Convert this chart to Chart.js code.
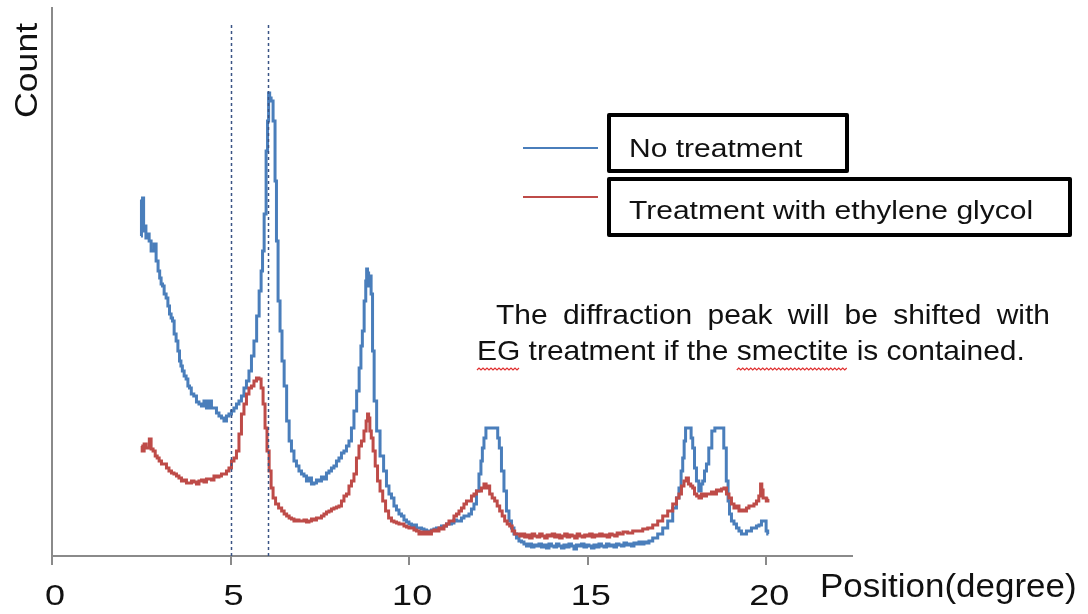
<!DOCTYPE html>
<html>
<head>
<meta charset="utf-8">
<script src="https://cdn.jsdelivr.net/npm/chart.js@4.4.1/dist/chart.umd.min.js"></script>
<style>
  html, body { margin: 0; padding: 0; background: #fff; }
  canvas { display: block; }
</style>
</head>
<body>
<canvas id="xrd" width="1088" height="614"></canvas>
<script>
// XRD pattern, [position (degree), count]
const noTreatment = [
  [2.49,320],[2.52,355],[2.55,358],[2.58,325],[2.61,330],[2.65,318],[2.69,322],[2.75,315],[2.80,305],[2.83,305],
  [2.89,312],[2.94,295],[3.00,285],[3.03,278],[3.08,272],[3.11,270],[3.17,262],[3.22,258],[3.27,250],[3.31,242],
  [3.36,238],[3.39,235],[3.45,222],[3.50,215],[3.55,205],[3.59,195],[3.63,190],[3.67,185],[3.73,180],[3.78,177],
  [3.83,170],[3.87,168],[3.93,162],[4.01,160],[4.08,154],[4.15,152],[4.22,150],[4.29,155],[4.36,148],[4.43,155],
  [4.50,148],[4.57,148],[4.64,143],[4.71,140],[4.78,138],[4.85,135],[4.92,140],[4.99,142],[5.06,145],[5.13,148],
  [5.20,152],[5.27,155],[5.34,160],[5.41,168],[5.48,175],[5.55,185],[5.62,200],[5.69,215],[5.77,240],[5.83,265],
  [5.88,285],[5.91,305],[5.97,342],[6.02,405],[6.05,435],[6.08,463],[6.11,458],[6.16,455],[6.22,435],[6.27,375],
  [6.30,315],[6.36,255],[6.41,225],[6.47,195],[6.53,170],[6.61,135],[6.67,115],[6.74,105],[6.81,95],[6.88,90],
  [6.95,85],[7.02,82],[7.09,80],[7.16,75],[7.23,78],[7.30,72],[7.37,73],[7.44,76],[7.51,75],[7.58,79],
  [7.65,77],[7.72,83],[7.79,85],[7.86,88],[7.93,90],[8.00,95],[8.07,98],[8.14,103],[8.21,105],[8.28,110],
  [8.35,115],[8.42,128],[8.49,145],[8.57,165],[8.63,188],[8.67,210],[8.71,225],[8.77,255],[8.80,275],[8.82,287],
  [8.85,283],[8.88,270],[8.91,280],[8.96,262],[8.99,205],[9.05,155],[9.13,125],[9.24,100],[9.33,85],[9.40,70],
  [9.47,62],[9.54,58],[9.61,50],[9.68,46],[9.75,42],[9.82,40],[9.89,36],[9.96,34],[10.03,32],[10.10,30],
  [10.17,31],[10.24,28],[10.31,28],[10.38,27],[10.45,26],[10.52,25],[10.59,25],[10.66,26],[10.73,27],[10.80,28],
  [10.87,28],[10.94,30],[11.01,30],[11.08,32],[11.15,32],[11.22,33],[11.29,36],[11.36,35],[11.43,35],[11.50,38],
  [11.57,40],[11.64,40],[11.71,42],[11.78,47],[11.85,52],[11.92,65],[11.99,82],[12.03,95],[12.07,108],[12.12,118],
  [12.18,128],[12.27,128],[12.38,128],[12.46,128],[12.50,118],[12.55,108],[12.62,85],[12.69,65],[12.76,45],[12.83,35],
  [12.90,28],[12.97,22],[13.04,18],[13.11,15],[13.18,14],[13.25,12],[13.32,10],[13.39,12],[13.46,9],[13.53,11],
  [13.60,10],[13.67,12],[13.74,9],[13.81,11],[13.88,8],[13.95,12],[14.02,10],[14.09,9],[14.16,12],[14.23,10],
  [14.30,8],[14.37,11],[14.44,9],[14.51,12],[14.58,10],[14.65,7],[14.72,11],[14.79,10],[14.86,12],[14.93,9],
  [15.00,11],[15.07,10],[15.14,8],[15.21,11],[15.28,9],[15.35,12],[15.42,10],[15.49,9],[15.56,12],[15.63,10],
  [15.70,11],[15.77,9],[15.84,12],[15.91,11],[15.98,10],[16.05,13],[16.12,11],[16.19,12],[16.26,10],[16.33,13],
  [16.40,12],[16.47,14],[16.54,12],[16.61,14],[16.68,13],[16.75,15],[16.89,18],[17.03,22],[17.17,28],[17.31,35],
  [17.45,48],[17.52,58],[17.59,68],[17.64,85],[17.68,98],[17.72,115],[17.76,128],[17.87,128],[17.92,118],[17.96,108],
  [18.02,88],[18.07,75],[18.15,65],[18.20,72],[18.24,75],[18.30,85],[18.35,92],[18.43,108],[18.52,125],[18.60,128],
  [18.77,128],[18.85,108],[18.91,75],[18.95,55],[18.99,42],[19.06,35],[19.13,32],[19.20,28],[19.27,25],[19.34,22],
  [19.41,22],[19.48,25],[19.55,25],[19.62,28],[19.69,28],[19.76,30],[19.83,31],[19.90,35],[19.97,35],[20.02,25],
  [20.06,22]
];

const ethyleneGlycol = [
  [2.50,110],[2.55,105],[2.61,112],[2.66,108],[2.70,108],[2.75,117],[2.80,107],[2.86,105],[2.92,100],[2.97,98],
  [3.03,95],[3.10,92],[3.17,92],[3.24,88],[3.31,85],[3.38,83],[3.45,82],[3.52,80],[3.59,78],[3.66,75],
  [3.73,76],[3.80,73],[3.87,73],[3.94,75],[4.01,74],[4.08,72],[4.15,75],[4.22,76],[4.29,74],[4.36,77],
  [4.43,77],[4.50,76],[4.57,80],[4.64,79],[4.71,80],[4.78,82],[4.85,82],[4.92,85],[4.99,88],[5.06,95],
  [5.13,98],[5.20,105],[5.27,122],[5.34,142],[5.41,152],[5.48,162],[5.55,168],[5.62,170],[5.69,175],[5.76,178],
  [5.83,177],[5.88,168],[5.94,152],[5.99,128],[6.05,105],[6.11,85],[6.16,68],[6.22,58],[6.30,52],[6.39,48],
  [6.47,45],[6.53,42],[6.61,40],[6.67,38],[6.74,37],[6.81,35],[6.88,36],[6.95,35],[7.02,35],[7.09,36],
  [7.16,34],[7.23,35],[7.30,37],[7.37,36],[7.44,38],[7.51,38],[7.58,40],[7.65,42],[7.72,44],[7.79,45],
  [7.86,47],[7.93,48],[8.00,49],[8.07,50],[8.14,55],[8.21,60],[8.28,62],[8.35,70],[8.42,75],[8.49,82],
  [8.56,98],[8.63,110],[8.70,115],[8.77,125],[8.82,135],[8.85,142],[8.88,138],[8.92,125],[8.96,118],[9.02,105],
  [9.08,90],[9.15,75],[9.22,65],[9.30,55],[9.38,45],[9.47,38],[9.54,35],[9.61,34],[9.68,33],[9.75,32],
  [9.82,32],[9.89,30],[9.96,29],[10.03,28],[10.10,28],[10.17,26],[10.24,25],[10.31,22],[10.38,24],[10.45,22],
  [10.52,24],[10.59,22],[10.66,25],[10.73,26],[10.80,25],[10.87,28],[10.94,27],[11.01,30],[11.08,32],[11.15,35],
  [11.22,35],[11.29,40],[11.36,42],[11.43,45],[11.50,48],[11.57,52],[11.64,55],[11.71,55],[11.78,60],[11.85,62],
  [11.92,65],[11.99,65],[12.06,68],[12.13,72],[12.18,68],[12.22,70],[12.29,62],[12.36,58],[12.43,55],[12.50,50],
  [12.57,45],[12.64,40],[12.71,35],[12.78,32],[12.85,30],[12.92,25],[12.99,22],[13.06,22],[13.13,20],[13.20,22],
  [13.27,19],[13.34,21],[13.41,18],[13.48,22],[13.55,20],[13.62,19],[13.69,22],[13.76,20],[13.83,18],[13.90,21],
  [13.97,20],[14.04,22],[14.11,19],[14.18,21],[14.25,18],[14.32,20],[14.39,22],[14.46,19],[14.53,21],[14.60,20],
  [14.67,18],[14.74,22],[14.81,20],[14.88,19],[14.95,21],[15.02,20],[15.09,22],[15.16,19],[15.23,21],[15.30,20],
  [15.37,22],[15.44,20],[15.51,21],[15.58,19],[15.65,22],[15.72,21],[15.79,20],[15.86,23],[15.93,22],[16.05,24],
  [16.19,23],[16.33,25],[16.47,25],[16.61,27],[16.75,28],[16.89,31],[17.03,35],[17.17,40],[17.31,45],[17.45,52],
  [17.52,58],[17.59,62],[17.66,70],[17.73,75],[17.79,78],[17.85,72],[17.92,70],[17.96,68],[18.02,62],[18.08,60],
  [18.15,58],[18.22,62],[18.29,60],[18.36,62],[18.43,62],[18.50,64],[18.57,62],[18.64,66],[18.71,65],[18.78,67],
  [18.85,68],[18.92,62],[18.99,58],[19.06,52],[19.13,48],[19.20,50],[19.27,45],[19.34,46],[19.41,45],[19.48,48],
  [19.55,50],[19.62,50],[19.69,52],[19.76,55],[19.82,60],[19.86,72],[19.89,66],[19.93,58],[19.97,58],[20.03,55],
  [20.06,57]
];

const seriesLabels = ['No treatment', 'Treatment with ethylene glycol'];
const seriesColors = ['#4a7ebb', '#be4b48'];
const markerPositions = [5.0, 6.05];
const xTitle = 'Position(degree)';
const yTitle = 'Count';
const noteLine1 = 'The diffraction peak will be shifted with';
const noteLine2 = 'EG treatment if the smectite is contained.';
const flaggedWords = ['EG', 'smectite'];

function stretchText(ctx, text, x, y, size, sx) {
  ctx.save();
  ctx.translate(x, y);
  ctx.scale(sx, 1);
  ctx.font = size + 'px "Liberation Sans", Arial, sans-serif';
  ctx.fillText(text, 0, 0);
  ctx.restore();
}

function textWidth(ctx, text, size, sx) {
  ctx.save();
  ctx.font = size + 'px "Liberation Sans", Arial, sans-serif';
  const w = ctx.measureText(text).width * sx;
  ctx.restore();
  return w;
}

function squiggle(ctx, x0, x1, y) {
  ctx.save();
  ctx.strokeStyle = '#e03030';
  ctx.lineWidth = 1.2;
  ctx.beginPath();
  let up = true;
  ctx.moveTo(x0, y);
  for (let x = x0 + 2; x <= x1; x += 2) {
    ctx.lineTo(x, up ? y - 2 : y);
    up = !up;
  }
  ctx.stroke();
  ctx.restore();
}

const extras = {
  id: 'extras',
  afterDatasetsDraw(chart) {
    const ctx = chart.ctx;
    const xs = chart.scales.x;
    const area = chart.chartArea;

    // dotted guide lines
    ctx.save();
    ctx.strokeStyle = '#3a5385';
    ctx.lineWidth = 1.5;
    ctx.setLineDash([3, 3]);
    markerPositions.forEach(v => {
      const px = Math.round(xs.getPixelForValue(v)) + 0.5;
      ctx.beginPath();
      ctx.moveTo(px, 25);
      ctx.lineTo(px, area.bottom);
      ctx.stroke();
    });
    ctx.restore();
  },
  afterDraw(chart) {
    const ctx = chart.ctx;
    const xs = chart.scales.x;
    ctx.save();
    ctx.fillStyle = '#111';
    ctx.textBaseline = 'middle';

    // tick labels
    xs.ticks.forEach(t => {
      const label = String(t.value);
      const w = textWidth(ctx, label, 30, 1.2);
      stretchText(ctx, label, xs.getPixelForValue(t.value) + 3 - w / 2, 597, 30, 1.2);
    });

    // axis titles
    stretchText(ctx, xTitle, 820, 588, 33, 1.06);
    ctx.save();
    ctx.translate(28, 118);
    ctx.rotate(-Math.PI / 2);
    stretchText(ctx, yTitle, 0, 0, 31, 1.15);
    ctx.restore();

    // legend
    ctx.save();
    ctx.lineWidth = 2;
    [148, 197].forEach((y, i) => {
      ctx.strokeStyle = seriesColors[i];
      ctx.beginPath();
      ctx.moveTo(523, y);
      ctx.lineTo(598, y);
      ctx.stroke();
    });
    ctx.strokeStyle = '#000';
    ctx.lineWidth = 4;
    ctx.lineJoin = 'round';
    ctx.strokeRect(609, 115, 238, 56);
    ctx.strokeRect(609, 179, 461, 56);
    ctx.restore();
    stretchText(ctx, seriesLabels[0], 629, 150, 25, 1.2);
    stretchText(ctx, seriesLabels[1], 629, 212, 25, 1.2);

    // note, first line justified
    const size = 28, sx = 1.07;
    const words = noteLine1.split(' ');
    const widths = words.map(w => textWidth(ctx, w, size, sx));
    const total = widths.reduce((a, b) => a + b, 0);
    const gap = (1050 - 496 - total) / (words.length - 1);
    let x = 496;
    words.forEach((w, i) => {
      stretchText(ctx, w, x, 316, size, sx);
      x += widths[i] + gap;
    });
    const x2 = 477;
    stretchText(ctx, noteLine2, x2, 352, size, sx);
    flaggedWords.forEach(word => {
      const idx = noteLine2.indexOf(word);
      const a = x2 + textWidth(ctx, noteLine2.slice(0, idx), size, sx);
      const b = a + textWidth(ctx, word, size, sx);
      squiggle(ctx, a, b, 370);
    });
    ctx.restore();
  }
};

const datasets = [
  {
    label: seriesLabels[0],
    data: noTreatment.map(p => ({ x: p[0], y: p[1] })),
    borderColor: seriesColors[0],
    borderWidth: 3,
    pointRadius: 0,
    stepped: 'middle',
    order: 1
  },
  {
    label: seriesLabels[1],
    data: ethyleneGlycol.map(p => ({ x: p[0], y: p[1] })),
    borderColor: seriesColors[1],
    borderWidth: 3,
    pointRadius: 0,
    stepped: 'middle',
    order: 0
  }
];

new Chart(document.getElementById('xrd'), {
  type: 'line',
  data: { datasets: datasets },
  options: {
    responsive: false,
    animation: false,
    layout: { padding: { left: 52, right: 236, top: 8, bottom: 0 } },
    plugins: { legend: { display: false }, tooltip: { enabled: false } },
    scales: {
      x: {
        type: 'linear',
        min: 0,
        max: 22.4,
        afterFit: s => { s.height = 58; },
        ticks: { stepSize: 5, includeBounds: false, color: 'rgba(0,0,0,0)' },
        grid: { display: true, drawOnChartArea: false, drawTicks: true, tickLength: 9, color: '#8a8a8a', lineWidth: 2 },
        border: { display: true, color: '#8a8a8a', width: 2 }
      },
      y: {
        min: 0,
        max: 548,
        afterFit: s => { s.width = 0; },
        ticks: { display: false },
        grid: { display: false },
        border: { display: true, color: '#8a8a8a', width: 2 }
      }
    }
  },
  plugins: [extras]
});
</script>
</body>
</html>
